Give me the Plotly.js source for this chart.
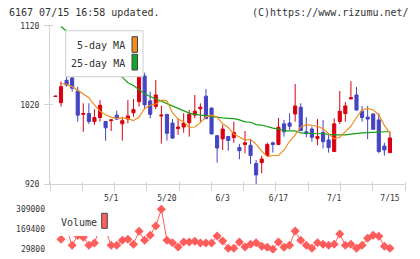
<!DOCTYPE html>
<html><head><meta charset="utf-8">
<script src="https://cdn.plot.ly/plotly-3.0.1.min.js"></script>
<style>html,body{margin:0;padding:0;background:#fff}#chart{width:420px;height:259px}</style>
</head><body><div id="chart"></div>
<script>
// ---- data (index -1 .. 59) ----
const opens  = [1030.5,1022.7,1051,1054,1037.5,1008,1009,999,1004,999,1000,1007,996,1002,1010,1024,1056.5,1025,1018,1006,1008,997,990,992,997.5,1007,1015,1031,1016,981,977,980,978.6,966,970,969,946,947,956,972,970,996,997,1008.5,1017,986,989.5,977.5,985,975.6,961,999,1009,1027.5,1032.5,1012,1004.5,1008.5,1001,968,959.6];
const highs  = [1031,1049.3,1076,1064,1043,1022,1022,1014.4,1026,999.5,1002,1012.7,1005,1026,1027.4,1060.6,1060.6,1036.6,1051.4,1019,1008.5,1002,1003,1009.4,1013.5,1032.5,1022,1040,1016.5,982,994.6,980.5,998.8,970.6,987,976.5,950.3,955.4,972.2,973.5,1003.4,1000.9,1009.4,1046.4,1022,1004.3,992.4,1002,1001,982,1003,1037.5,1023.6,1050,1042.6,1018.6,1018.6,1009,1009.4,972.2,986.2];
const lows   = [1030.5,1017.7,1043,1036.6,998.8,986,995.8,994.6,998.8,974.8,987,1000.9,974.8,996.7,1005,1017.7,1014.4,1003,1014.4,971,974.8,977,982,984.9,979.8,1003,998.8,1002,983,947,963,962,972.2,951.3,958.8,945.3,919,933.6,955.8,959.6,969.7,979.8,988.3,998.8,987,979,973.5,969,965,959.6,960.9,995.8,998.8,1027,1012.7,998.8,976.5,989,958.8,955.8,959.6];
const closes = [1031,1043,1045,1041,1007,1009,999,1004,1019.5,991,1001,1002,1000,1006,1014,1056.5,1020,1008,1032.5,1007,984,978,992,997,1008,1012,1017,1002.5,983.2,965.5,989.5,975,985,962,972,956,931.5,951.6,970,970,991.7,986,993,1018.6,987.4,983.6,979,980,973.5,966,996,1012,1018.6,1029,1013.5,1004,1002,989.1,961,963,978.2];
const volumes = [null,98000,170000,56000,125000,112000,56000,72000,180000,160000,56000,56000,91000,98000,63000,154000,91000,126000,191000,309000,91000,74000,44000,79000,79000,84000,72000,72000,72000,121000,86000,35000,35000,79000,44000,63000,74000,49000,42000,28000,79000,42000,56000,156000,91000,56000,35000,74000,63000,56000,63000,135000,56000,63000,35000,56000,105000,126000,119000,49000,35000];
const ma5  = [null,1047,1046,1043,1038,1034,1029,1020,1012,1007.5,1004.5,1003,1003.5,1002.5,1000,1004.5,1015.5,1019.5,1021,1026,1025,1010,1002,998.5,991.5,992,997.5,1005,1007,1004.5,996,991.5,983,979.5,975.5,976.5,970,961.5,954.5,956,956,963,974,982,992,995,994,993,990,983,977,979,985.5,993,1004,1013.5,1015.5,1013.5,1007.5,994,984];
const ma25 = [null,1119,1113,1107,1101,1095,1089,1083,1077,1071,1065,1060,1055,1048,1044.5,1039,1034,1030.5,1027,1024.5,1021.5,1018.5,1014.5,1012,1009.5,1008,1007,1006,1005,1004,1003.5,1003,1002.5,1001,998.5,998,995,994.5,992.5,990.5,989.5,987,987,987,984.5,984,984,983.5,983.5,982.5,982,982,982,983,984,984.5,985,985.5,985.8,986,986];
const tickLabels = ['5/1','5/20','6/3','6/17','7/1','7/15'];
const tickIdx = [9,19,29,39,49,59];
const priceTicks = [920,1020,1120];
const volTicks = [29800,169400,309000];
const volTickText = ['29800','169400','309000'];

// ---- layout helpers ----
const W=420,H=259,L=50,R=15,T=20,B=4;
const pw=W-L-R, ph=H-T-B;
const fx=px=>(px-L)/pw;
const fy=py=>(H-B-py)/ph;
const idx = opens.map((_,k)=>k-1);
const FONT='DejaVu Sans Mono, monospace';
const GRID='#d2d2d2';
const xRange=[-1.973,61.70];

const traces=[
 {type:'scatter',mode:'lines',x:idx,y:ma25,line:{color:'#14a014',width:1.2},hoverinfo:'skip',showlegend:false},
 {type:'scatter',mode:'lines',x:idx,y:ma5,line:{color:'#f08c1c',width:1.2},hoverinfo:'skip',showlegend:false},
 {type:'candlestick',x:idx,open:opens,high:highs,low:lows,close:closes,whiskerwidth:0,
  increasing:{line:{color:'#d80010',width:1},fillcolor:'#d80010'},
  decreasing:{line:{color:'#4444c4',width:1},fillcolor:'#4444c4'},hoverinfo:'skip',showlegend:false},
 {type:'scatter',mode:'lines+markers',x:idx,y:volumes,xaxis:'x2',yaxis:'y2',connectgaps:false,
  line:{color:'#ff5c5c',width:1},marker:{symbol:'diamond',size:7,color:'#ff5c5c'},hoverinfo:'skip',showlegend:false},
 {type:'scatter',x:[],y:[],xaxis:'x3',yaxis:'y',showlegend:false,hoverinfo:'skip'},
 {type:'scatter',x:[],y:[],xaxis:'x',yaxis:'y3',showlegend:false,hoverinfo:'skip'}
];

const layout={
 width:W,height:H,margin:{l:L,r:R,t:T,b:B},paper_bgcolor:'#fff',plot_bgcolor:'#fff',
 font:{family:FONT,size:8,color:'#333'},showlegend:false,boxgap:0.2,
 xaxis:{domain:[0,1],anchor:'y',range:xRange,tickmode:'array',tickvals:tickIdx,ticktext:tickLabels,ticks:'',
   showline:true,linecolor:GRID,linewidth:1,showgrid:false,zeroline:false,ticklabelstandoff:6,
   tickfont:{size:8,color:'#333'},rangeslider:{visible:false}},
 yaxis:{domain:[fy(184),fy(25.7)],anchor:'x',range:[920,1120],tickmode:'array',tickvals:priceTicks,
   ticks:'outside',ticklen:5,tickcolor:GRID,showline:true,linecolor:GRID,linewidth:1,showgrid:false,zeroline:false,
   ticklabelstandoff:3,tickfont:{size:8,color:'#333'}},
 xaxis2:{domain:[0,1],anchor:'y2',range:xRange,showticklabels:false,ticks:'',showline:false,showgrid:false,zeroline:false},
 yaxis2:{domain:[fy(253),fy(205)],anchor:'x2',range:[1740,338460],tickmode:'array',tickvals:volTicks,ticktext:volTickText,
   ticks:'',showline:false,showgrid:false,zeroline:false,ticklabelstandoff:4,tickfont:{size:8,color:'#333'}},
 xaxis3:{overlaying:'x',anchor:'free',position:fy(180.7),range:[0,11],tickmode:'linear',tick0:0,dtick:1,
   ticks:'outside',ticklen:9,tickcolor:GRID,showticklabels:false,showline:false,showgrid:false,zeroline:false},
 yaxis3:{overlaying:'y',anchor:'free',position:fx(53.3),side:'left',range:[920,1120],tickmode:'array',tickvals:priceTicks,
   ticks:'outside',ticklen:8,tickcolor:GRID,showticklabels:false,showline:false,showgrid:false,zeroline:false},
 shapes:[
   {type:'rect',xref:'paper',yref:'paper',x0:fx(65.7),x1:fx(143),y0:fy(76.7),y1:fy(30.7),fillcolor:'#fff',line:{color:'#cfcfcf',width:1},layer:'above'},
   {type:'rect',xref:'paper',yref:'paper',x0:fx(132),x1:fx(137.5),y0:fy(52.3),y1:fy(36.7),fillcolor:'#f08a1c',line:{color:'#444',width:1},layer:'above'},
   {type:'rect',xref:'paper',yref:'paper',x0:fx(132),x1:fx(137.5),y0:fy(70),y1:fy(54.3),fillcolor:'#10a828',line:{color:'#444',width:1},layer:'above'},
   {type:'rect',xref:'paper',yref:'paper',x0:fx(55),x1:fx(111),y0:fy(236),y1:fy(208),fillcolor:'#fff',line:{width:0},layer:'above'},
   {type:'rect',xref:'paper',yref:'paper',x0:fx(101.7),x1:fx(107.3),y0:fy(228.3),y1:fy(213.3),fillcolor:'#ff6060',line:{color:'#444',width:1},layer:'above'}
 ],
 annotations:[
   {xref:'paper',yref:'paper',x:fx(7),y:fy(12.7),xanchor:'left',yanchor:'middle',text:'6167 07/15 16:58 updated.',showarrow:false,font:{size:10,color:'#333'}},
   {xref:'paper',yref:'paper',x:fx(411),y:fy(12.7),xanchor:'right',yanchor:'middle',text:'(C)https://www.rizumu.net/',showarrow:false,font:{size:10,color:'#333'}},
   {xref:'paper',yref:'paper',x:fx(126.5),y:fy(45),xanchor:'right',yanchor:'middle',text:'5-day MA',showarrow:false,font:{size:10,color:'#333'}},
   {xref:'paper',yref:'paper',x:fx(126.5),y:fy(63.3),xanchor:'right',yanchor:'middle',text:'25-day MA',showarrow:false,font:{size:10,color:'#333'}},
   {xref:'paper',yref:'paper',x:fx(58.5),y:fy(222),xanchor:'left',yanchor:'middle',text:'Volume',showarrow:false,font:{size:10,color:'#333'}}
 ]
};
Plotly.newPlot('chart',traces,layout,{staticPlot:true,displayModeBar:false});
</script></body></html>
